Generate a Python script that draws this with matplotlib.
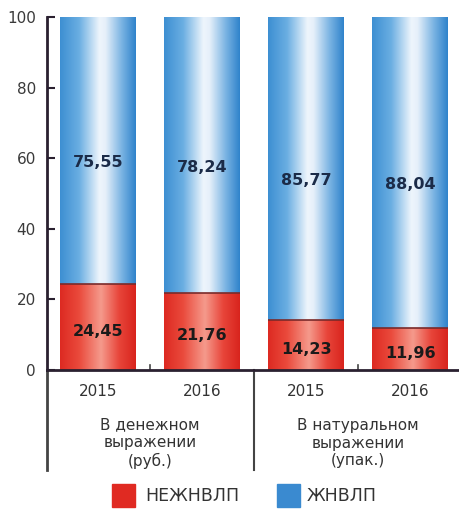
import numpy as np
import matplotlib.pyplot as plt
from matplotlib.colors import LinearSegmentedColormap
from matplotlib.patches import Rectangle
import matplotlib.transforms as mtransforms

plt.rcParams['font.family'] = ['DejaVu Sans']

# Shares of the market, %
years = ['2015', '2016', '2015', '2016']
groups = ['В денежном\nвыражении\n(руб.)', 'В натуральном\nвыражении\n(упак.)']
non_vital = [24.45, 21.76, 14.23, 11.96]   # НЕЖНВЛП
vital = [75.55, 78.24, 85.77, 88.04]       # ЖНВЛП

red_cmap = LinearSegmentedColormap.from_list('red_tube', [
    (0.0, '#dd2a22'), (0.25, '#ea4a3c'), (0.54, '#f59a8c'),
    (0.78, '#e8453a'), (1.0, '#d8241d')])
blue_cmap = LinearSegmentedColormap.from_list('blue_tube', [
    (0.0, '#3d8fd2'), (0.25, '#6aaee2'), (0.52, '#eef5fc'), (0.6, '#e6f0fa'),
    (0.82, '#78b2e2'), (1.0, '#2f83cb')])

fig = plt.figure(figsize=(4.6, 5.17), dpi=100)
ax = fig.add_axes([47 / 460, 1 - 370 / 517, 413 / 460, 353 / 517])

x = np.arange(len(years))
width = 0.73
grad = np.linspace(0, 1, 256).reshape(1, -1)


def tube(bars, cmap):
    for b in bars:
        x0, y0 = b.get_x(), b.get_y()
        im = ax.imshow(grad, cmap=cmap, aspect='auto', zorder=2,
                       extent=[x0, x0 + b.get_width(), y0, y0 + b.get_height()])
        im.set_clip_path(b)


bars_red = ax.bar(x, non_vital, width, color='none', edgecolor='none')
bars_blue = ax.bar(x, vital, width, bottom=non_vital, color='none', edgecolor='none')
tube(bars_red, red_cmap)
tube(bars_blue, blue_cmap)
ax.hlines(non_vital, x - width / 2, x + width / 2, color='#7a2a2a', lw=1.2, zorder=3)

for xi, r, v in zip(x, non_vital, vital):
    ax.annotate(f'{r:.2f}'.replace('.', ','), (xi, r / 2), xytext=(0, -3),
                textcoords='offset points', ha='center', va='center',
                fontsize=11.5, fontweight='bold', color='#1a1a1a', zorder=4)
    ax.annotate(f'{v:.2f}'.replace('.', ','), (xi, r + v / 2), xytext=(0, -9),
                textcoords='offset points', ha='center', va='center',
                fontsize=11.5, fontweight='bold', color='#1b2b48', zorder=4)

ax.set_xlim(-0.49, 3.48)
ax.set_ylim(0, 100)
ax.set_yticks([0, 20, 40, 60, 80, 100])
ax.tick_params(axis='y', direction='in', length=6, width=1.5, colors='#2a2030',
               labelcolor='#3a3a3a', labelsize=11, pad=8)
ax.set_xticks([])
for s in ['top', 'right']:
    ax.spines[s].set_visible(False)
ax.spines['left'].set_linewidth(2)
ax.spines['bottom'].set_linewidth(2)
ax.spines['left'].set_color('#2a2030')
ax.spines['bottom'].set_color('#2a2030')

# category labels under the axis
trans = mtransforms.blended_transform_factory(ax.transData, ax.transAxes)
for xi, yr in zip(x, years):
    ax.text(xi, -0.062, yr, transform=trans, ha='center', va='center',
            fontsize=11, color='#333333')
for gx, g in zip([0.5, 2.5], groups):
    ax.text(gx, -0.207, g, transform=trans, ha='center', va='center',
            fontsize=11, color='#333333', linespacing=1.2)

# group dividers and small ticks between years
for sx in [-0.49, 1.5]:
    ax.plot([sx, sx], [0, -0.283], transform=trans, color='#444444',
            lw=1.5 if sx > 0 else 2, clip_on=False)
for tx in [0.5, 2.5]:
    ax.plot([tx, tx], [0, 0.015], transform=trans, color='#444444', lw=1.2,
            clip_on=False)

# legend
fig.patches.append(Rectangle((112 / 460, 1 - 507 / 517), 23 / 460, 23 / 517,
                             transform=fig.transFigure, color='#e02a22'))
fig.patches.append(Rectangle((277 / 460, 1 - 507 / 517), 23 / 460, 23 / 517,
                             transform=fig.transFigure, color='#3a8ad0'))
fig.text(145 / 460, 1 - 496 / 517, 'НЕЖНВЛП', fontsize=12.5, color='#333333', va='center')
fig.text(307 / 460, 1 - 496 / 517, 'ЖНВЛП', fontsize=12.5, color='#333333', va='center')

fig.savefig('out.png', dpi=100)
